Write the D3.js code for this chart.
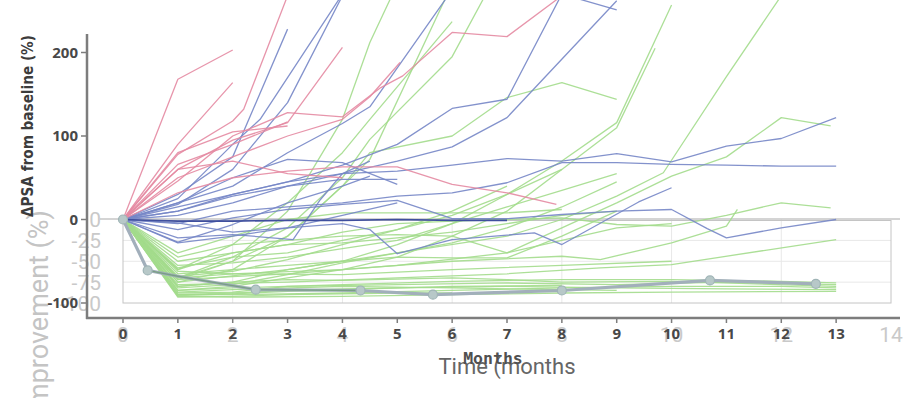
<!DOCTYPE html>
<html><head><meta charset="utf-8">
<script src="https://cdn.jsdelivr.net/npm/d3@7"></script>
<style>html,body{margin:0;padding:0;background:#fff;overflow:hidden}</style>
</head><body>
<svg id="c" width="920" height="398"></svg>
<script>
// ---- data: [month, ΔPSA %] ----
const pinkSeries = [
  [[0,0],[1,168],[2,203]],
  [[0,0],[1,90],[2,164]],
  [[0,0],[1,78],[2,118],[2.2,132],[3,268]],
  [[0,0],[1,60],[2,95],[3,116],[4,206]],
  [[0,0],[1,46],[2,100],[3,128],[4,123],[4.7,158],[5.1,172],[6,224],[7,219],[8,268]],
  [[0,0],[1,50],[2,75],[3,100],[4,120],[4.5,147],[5.05,188]],
  [[0,0],[1,32],[2,50],[3,58],[4,63],[5,63],[6,42],[7,32],[7.9,18]],
  [[0,0],[1,66],[2,90],[3,117]],
  [[0,0],[1,80],[2,105],[3,112]],
  [[0,0],[1,60],[2,70],[3,55],[4,50]]
];
const blueSeries = [
  [[0,0],[1,18],[2,60],[3,140],[4,268]],
  [[0,0],[1,25],[2,90],[2.5,120],[3,170],[4,270]],
  [[0,0],[1,30],[2,75],[3,228]],
  [[0,0],[1,20],[2,40],[3,80],[4,115],[4.5,135],[6,275]],
  [[0,0],[1,10],[2,30],[3,45],[4,65],[5,90],[6,133],[7,144],[8,270],[9,251]],
  [[0,0],[1,5],[2,20],[3,40],[4,55],[5,70],[6,87],[7,122],[9,262]],
  [[0,0],[1,15],[2,30],[3,45],[4,55],[5,58],[6,65],[7,73],[8,70],[9,79],[10,69],[11,88],[12,97],[13,122]],
  [[0,0],[1,-5],[2,10],[3,15],[4,20],[5,28],[6,32],[7,44],[8,68],[9,68],[10,66],[11,65],[12,64],[13,64]],
  [[0,0],[1,-12],[2,2],[3,12],[4,18],[5,23],[6,1],[7,1],[8,6],[9,10],[10,12],[10.65,-11],[11,-22],[12,-10],[13,0]],
  [[0,0],[1,-28],[2,-20],[3,-10],[4,-5],[4.5,-12],[5,-41],[6,-24],[7.5,-16],[8,-30],[9.4,21],[10,38]],
  [[0,0],[1,20],[2,50],[3,72],[4,68],[5,42]],
  [[0,0],[1,-27],[2,-6],[3,20],[4,40],[4.5,52]],
  [[0,0],[1,-22],[2,-18],[3.1,-24],[3.6,24],[4,55],[4.5,70]],
  [[0,0],[1,-4],[2,-15],[3,-10],[4,5],[5,20]],
  [[0,0],[1,10],[2,28],[3,40],[4,48],[5,48]]
];
const navySeries = [[0,0],[1,-2],[2,-2],[3,-1],[4,-1],[5,0],[6,-1],[7,-1]];
const greenSeries = [
  [[0,0],[1,-70],[2,-50],[3,10],[4,120],[4.5,212],[4.9,268]],
  [[0,0],[1,-75],[2,-60],[3,-20],[4,40],[4.5,72],[5.9,268]],
  [[0,0],[1,-70],[2,-45],[3,-10],[4,50],[4.5,96],[6,195],[6.6,268]],
  [[0,0],[1,-60],[2,-30],[3,20],[4,80],[4.5,120],[6,237]],
  [[0,0],[1,-72],[2,-50],[3,-20],[4,40],[4.5,80],[6,100],[7,146],[8,164],[9,144]],
  [[0,0],[1,-80],[2,-75],[3,-60],[4,-50],[5,-30],[6,-5],[7,30],[8,70],[9,116],[10,257]],
  [[0,0],[1,-85],[2,-80],[3,-70],[4,-60],[5,-45],[6,-20],[7,10],[8,60],[9,110],[9.7,205]],
  [[0,0],[1,-75],[3,-60],[5,-40],[7,-20],[8,0],[9,28],[9.85,56],[11,171],[12,268]],
  [[0,0],[1,-72],[3,-65],[5,-55],[7,-40],[8,-10],[9,20],[10,52],[11,75],[12,122],[12.9,112]],
  [[0,0],[1,-60],[2,-40],[3,-30],[4,-15],[5,-5],[6,-2],[7,0],[8,2],[9,-6],[10,-8],[11,5],[12,20],[12.9,14]],
  [[0,0],[1,-70],[2,-65],[4,-60],[6,-50],[8,-44],[8.7,-48],[10,-28],[11,-8],[11.2,12]],
  [[0,0],[1,-78],[3,-75],[5,-70],[7,-65],[8.7,-58],[10,-54],[13,-24]],
  [[0,0],[1,-92],[2,-93],[4,-92],[6,-90],[8,-88],[10,-87],[13,-86]],
  [[0,0],[1,-90],[2,-90],[4,-88],[6,-85],[8,-82],[10,-80],[12,-80],[13,-82]],
  [[0,0],[1,-88],[2,-87],[3,-80],[5,-78],[7,-76],[9,-78],[11,-75],[13,-78]],
  [[0,0],[1,-85],[2,-82],[4,-78],[6,-74],[8,-72],[10,-72],[12,-74],[13,-76]],
  [[0,0],[1,-91],[2,-89],[3,-86],[4,-84],[6,-80],[8,-79]],
  [[0,0],[1,-93],[2,-92],[3,-90],[5,-88],[6,-88]],
  [[0,0],[1,-80],[2,-75],[3,-72],[4,-73],[6,-70],[7,-72],[8,-75],[10,-74],[13,-80]],
  [[0,0],[1,-87],[2,-84],[4,-80],[6,-82],[8,-84],[9,-85]],
  [[0,0],[1,-62],[2,-65],[4,-66],[6,-60],[8,-55],[10,-50]],
  [[0,0],[1,-50],[2,-40],[3,-30],[4,-28],[5,-22],[6,-15],[7,-5],[8,5],[9,10]],
  [[0,0],[1,-55],[2,-52],[3,-45],[4,-35],[5,-25],[6,-5],[7,15],[8,35],[9,55]],
  [[0,0],[1,-45],[2,-30],[3,-25],[4,-20],[5,-18],[6,-20],[7,-40],[8,-25],[9,-10],[10,-5]],
  [[0,0],[1,-65],[2,-60],[3,-55],[4,-50],[5,-45],[6,-46],[7,-46],[8,-20],[9,10]],
  [[0,0],[1,-40],[2,-20],[3,0],[4,8],[5,8],[6,8],[7,8],[8,12]],
  [[0,0],[1,-68],[2,-62],[3,-48],[4,-30],[5,-12],[6,5],[7,30],[8,60]],
  [[0,0],[1,-82],[2,-78],[3,-66],[4,-52],[5,-40],[6,-28],[7,-10],[8,15],[9,45]],
  [[0,0],[1,-58],[2,-45],[3,-40],[4,-25],[5,-12],[6,10],[7,40]],
  [[0,0],[1,-90],[2,-88],[3,-85],[4,-83],[5,-82],[7,-80],[9,-82],[11,-83],[13,-84]]
];
const meanSeries = [[0,0],[0.45,-61],[1,-68],[2.42,-84],[4.33,-85],[5.65,-90],[8,-85],[10.7,-73],[12.63,-77]];
const meanMarkers = [[0,0],[0.45,-61],[2.42,-84],[4.33,-85],[5.65,-90],[8,-85],[10.7,-73],[12.63,-77]];
const xTicks = [0,1,2,3,4,5,6,7,8,9,10,11,12,13];
const yTicks = [200,100,0,-100];
const ghostXTicks = [0,2,4,6,8,10,12,14];
const ghostYTicks = [0,-25,-50,-75,-100];

// ---- drawing ----
const svg = d3.select("#c");
const x = d3.scaleLinear().domain([0,14]).range([123,891]);
const y = d3.scaleLinear().domain([-100,200]).range([303,52.5]);
const line = d3.line().x(d=>x(d[0])).y(d=>y(d[1]));

// ghost inset grid + box
const g0 = svg.append("g");
g0.selectAll(".gv").data(ghostXTicks.filter(t=>t>0&&t<14)).join("line")
  .attr("x1",d=>x(d)).attr("x2",d=>x(d)).attr("y1",y(0)).attr("y2",y(-100))
  .attr("stroke","#e8e8e8").attr("stroke-width",1);
g0.selectAll(".gh").data(ghostYTicks.filter(t=>t<0&&t>-100)).join("line")
  .attr("x1",x(0)).attr("x2",x(14)).attr("y1",d=>y(d)).attr("y2",d=>y(d))
  .attr("stroke","#e8e8e8").attr("stroke-width",1);
g0.append("rect").attr("x",x(0)).attr("y",y(0)+1).attr("width",x(14)-x(0)).attr("height",y(-100)-y(0)-1)
  .attr("fill","none").attr("stroke","#c4c4c4").attr("stroke-width",1);
g0.append("line").attr("x1",100).attr("x2",900).attr("y1",y(0)-0.5).attr("y2",y(0)-0.5)
  .attr("stroke","#a9a9a9").attr("stroke-width",1);

// ghost tick labels
svg.append("g").selectAll("text").data(ghostYTicks).join("text")
  .attr("x",101).attr("y",d=>y(d)).attr("dy","0.36em").attr("text-anchor","end")
  .attr("font-family","Roboto, sans-serif").attr("font-size",21).attr("fill","#c9c9c9")
  .text(d=>d===0?"0":"-"+Math.abs(d));
svg.append("g").selectAll("text").data(ghostXTicks).join("text")
  .attr("x",d=>x(d)).attr("y",342).attr("text-anchor","middle")
  .attr("font-family","Roboto, sans-serif").attr("font-size",21).attr("fill","#c9c9c9")
  .text(d=>d);
svg.append("text").attr("transform","translate(48,210) rotate(-90)").attr("text-anchor","end")
  .attr("font-family","Roboto, sans-serif").attr("font-size",27).attr("fill","#c4c4c4")
  .text("Improvement (%)");
svg.append("text").attr("x",507).attr("y",374).attr("text-anchor","middle")
  .attr("font-family","Roboto, sans-serif").attr("font-size",22).attr("fill","#666")
  .text("Time (months");

// spider lines
const lines = svg.append("g").attr("fill","none").attr("stroke-linejoin","round");
lines.selectAll(".g").data(greenSeries).join("path").attr("d",line)
  .attr("stroke","#a3db8c").attr("stroke-width",1.3).attr("stroke-opacity",0.9);
lines.selectAll(".b").data(blueSeries).join("path").attr("d",line)
  .attr("stroke","#7686c6").attr("stroke-width",1.3).attr("stroke-opacity",0.9);
lines.append("path").datum(navySeries).attr("d",line)
  .attr("stroke","#3f4f9e").attr("stroke-width",1.6);
lines.selectAll(".p").data(pinkSeries).join("path").attr("d",line)
  .attr("stroke","#e48aa2").attr("stroke-width",1.3).attr("stroke-opacity",0.9);

// mean line with markers
svg.append("path").datum(meanSeries).attr("d",line).attr("fill","none")
  .attr("stroke","#a2afbb").attr("stroke-width",3.2).attr("stroke-linejoin","round");
svg.append("path").datum(meanSeries.slice(1,5)).attr("d",line).attr("fill","none")
  .attr("stroke","#6f9b78").attr("stroke-width",1.4).attr("stroke-opacity",0.8);
svg.append("g").selectAll("circle").data(meanMarkers).join("circle")
  .attr("cx",d=>x(d[0])).attr("cy",d=>y(d[1])).attr("r",4.5)
  .attr("fill","#b7c8c8").attr("stroke","#9fb4b6").attr("stroke-width",1.2);

// main axes
const ax = svg.append("g").attr("stroke","#7d7d7d");
ax.append("line").attr("x1",87).attr("x2",87).attr("y1",34).attr("y2",319).attr("stroke-width",2.5);
ax.append("line").attr("x1",86).attr("x2",900).attr("y1",318).attr("y2",318).attr("stroke-width",2.5);
ax.selectAll(".yt").data(yTicks).join("line").attr("x1",81).attr("x2",87)
  .attr("y1",d=>y(d)).attr("y2",d=>y(d)).attr("stroke-width",1.5);
ax.selectAll(".xt").data(xTicks).join("line").attr("x1",d=>x(d)).attr("x2",d=>x(d))
  .attr("y1",318).attr("y2",323).attr("stroke-width",1.5);

svg.append("g").selectAll("text").data(yTicks).join("text")
  .attr("x",78).attr("y",d=>y(d)).attr("dy","0.36em").attr("text-anchor","end")
  .attr("font-family","'Noto Sans', sans-serif").attr("font-weight","bold").attr("font-size",15).attr("fill","#484848")
  .text(d=>d<0?"-"+Math.abs(d):d);
svg.append("g").selectAll("text").data(xTicks).join("text")
  .attr("x",d=>x(d)).attr("y",339).attr("text-anchor","middle")
  .attr("font-family","'Noto Sans', sans-serif").attr("font-weight","bold").attr("font-size",15).attr("fill","#484848")
  .text(d=>d);

svg.append("text").attr("transform","translate(33,126) rotate(-90)").attr("text-anchor","middle")
  .attr("font-family","'DejaVu Sans Condensed', 'DejaVu Sans', sans-serif").attr("font-weight","bold").attr("font-size",15)
  .attr("textLength",182).attr("lengthAdjust","spacingAndGlyphs").attr("fill","#3c3c3c")
  .text("ΔPSA from baseline (%)");
svg.append("text").attr("x",493).attr("y",364).attr("text-anchor","middle")
  .attr("font-family","'DejaVu Sans Mono', monospace").attr("font-weight","bold").attr("font-size",16.5).attr("fill","#505050")
  .text("Months");
</script>
</body></html>
